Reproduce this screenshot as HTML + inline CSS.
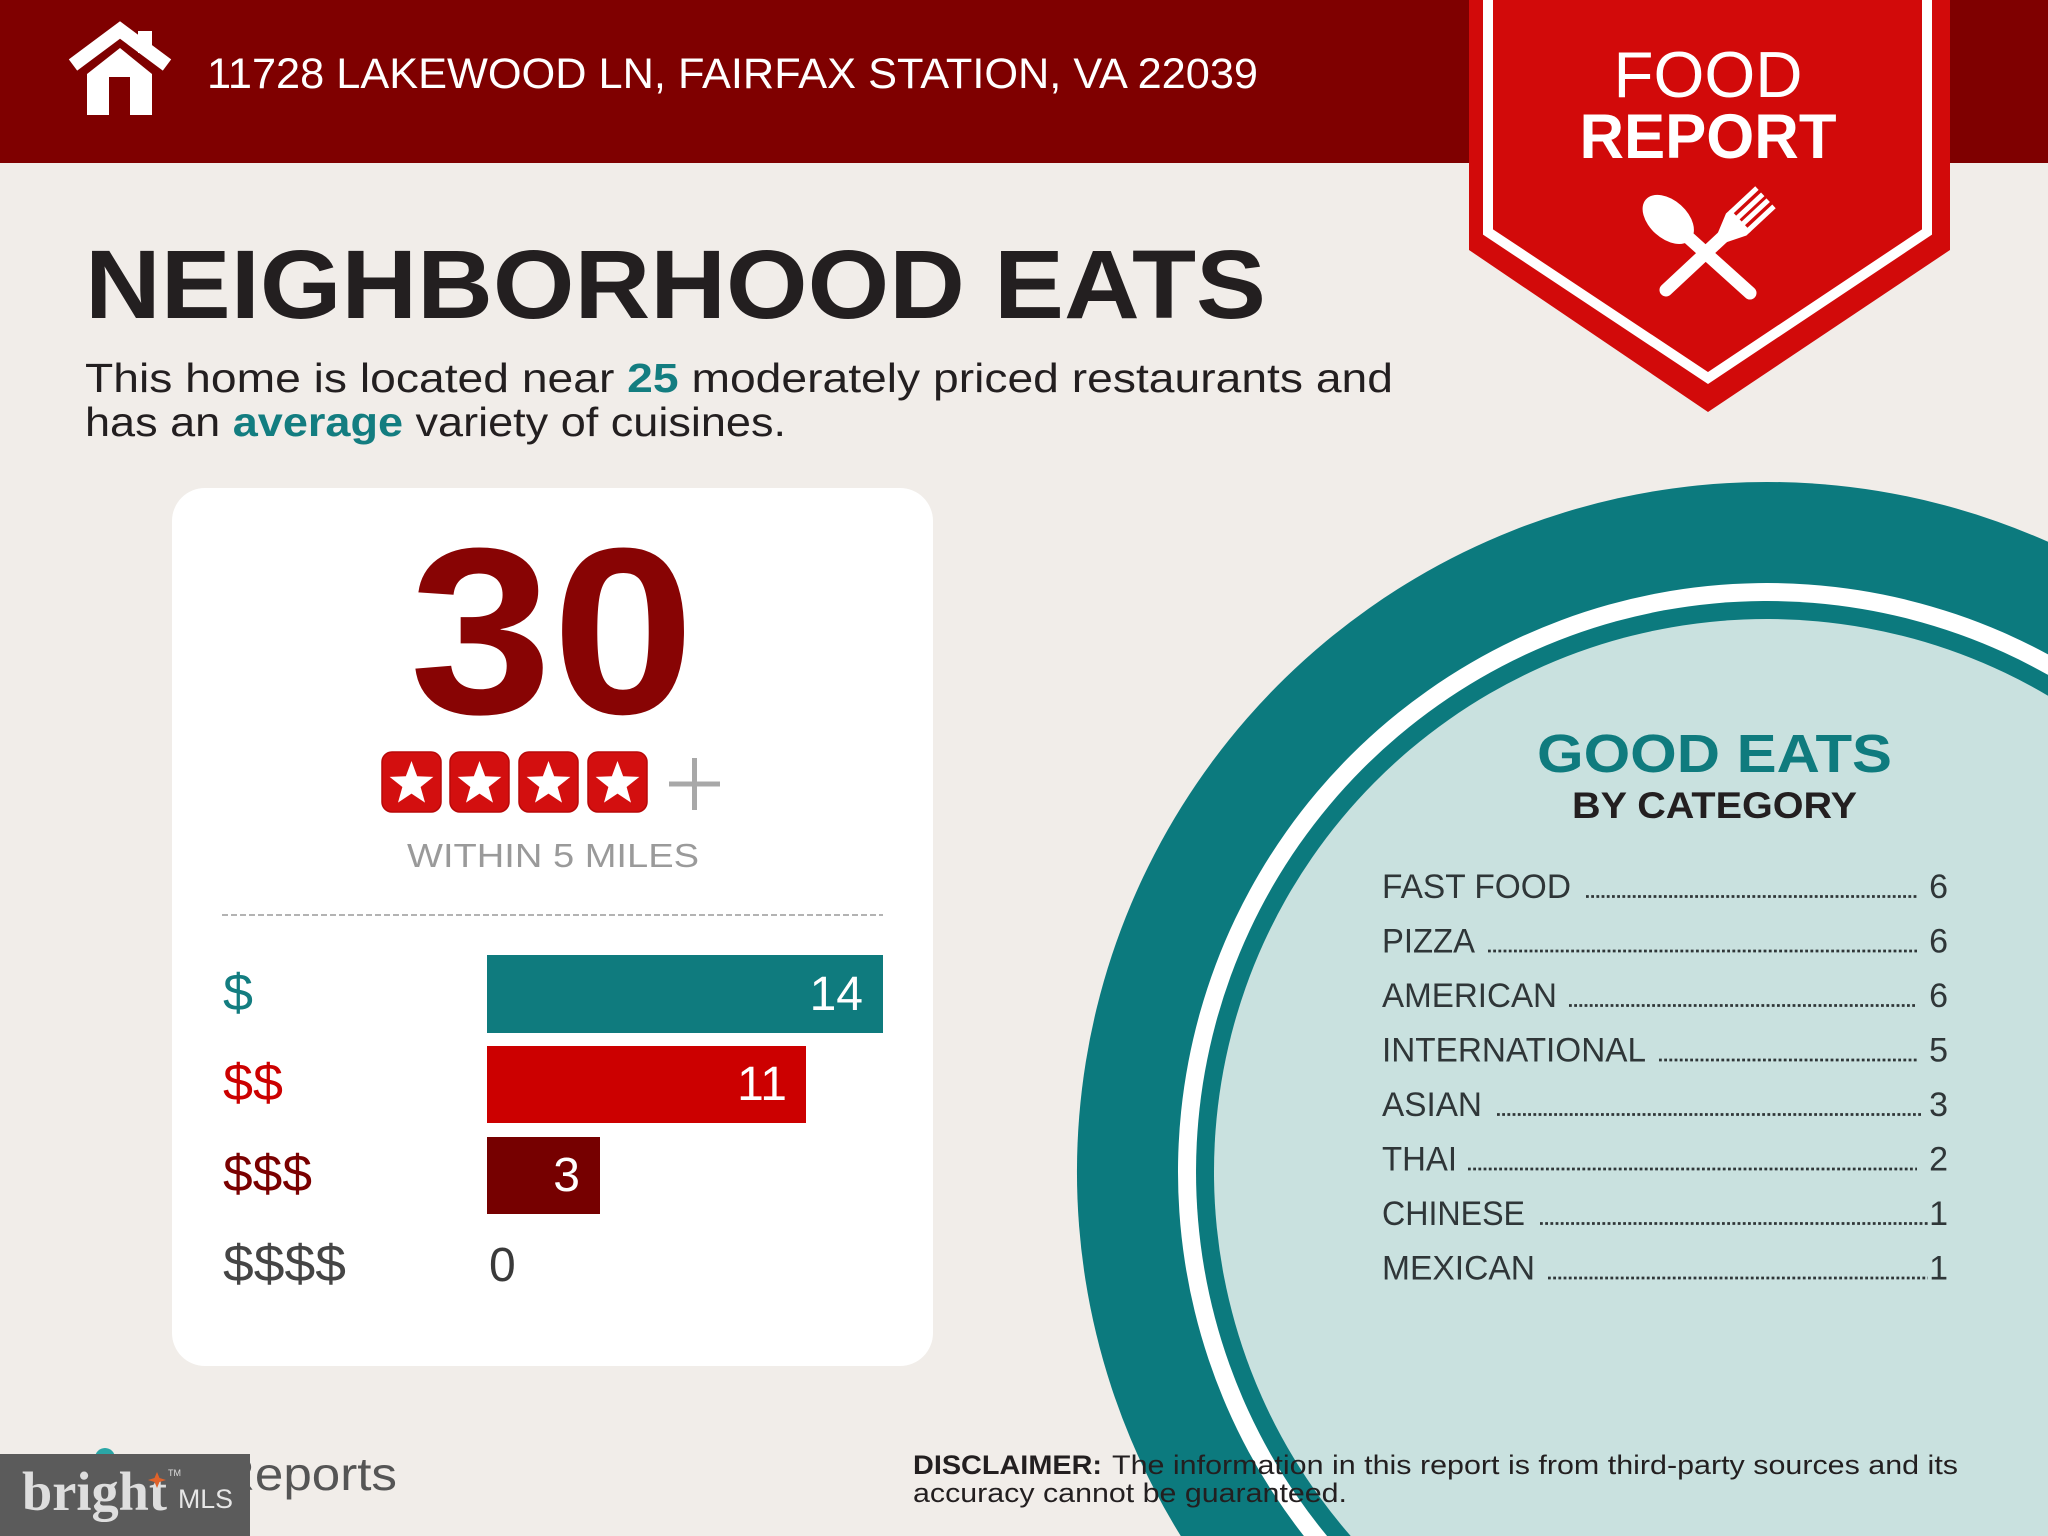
<!DOCTYPE html>
<html>
<head>
<meta charset="utf-8">
<style>
  html,body{margin:0;padding:0;background:#f1ede9;width:2048px;height:1536px;overflow:hidden;}
  svg{display:block;overflow:hidden;}
  text{font-family:"Liberation Sans", sans-serif;}
</style>
</head>
<body>
<svg width="2048" height="1536" viewBox="0 0 2048 1536" xmlns="http://www.w3.org/2000/svg">
  <!-- background -->
  <rect x="0" y="0" width="2048" height="1536" fill="#f1ede9"/>

  <!-- header banner -->
  <rect x="0" y="0" width="2048" height="163" fill="#7f0000"/>

  <!-- house icon -->
  <g fill="#ffffff">
    <polyline points="73,65 120,30 167,65" fill="none" stroke="#ffffff" stroke-width="14" stroke-linejoin="miter"/>
    <rect x="138" y="31" width="14" height="22"/>
    <polygon points="87,74 120,48 152,74 152,115 130,115 130,77 109,77 109,115 87,115"/>
  </g>
  <text x="207" y="88" font-size="43" fill="#ffffff" textLength="1051" lengthAdjust="spacingAndGlyphs">11728 LAKEWOOD LN, FAIRFAX STATION, VA 22039</text>

  <!-- ribbon -->
  <polygon points="1469,0 1950,0 1950,250 1708,412 1469,250" fill="#d20a0a"/>
  <polyline points="1488,0 1488,232 1708,378 1927,232 1927,0" fill="none" stroke="#ffffff" stroke-width="10" stroke-linejoin="miter"/>
  <text x="1708" y="97" font-size="65" fill="#ffffff" text-anchor="middle" textLength="189" lengthAdjust="spacingAndGlyphs">FOOD</text>
  <text x="1708" y="158" font-size="63" font-weight="bold" fill="#ffffff" text-anchor="middle" textLength="257" lengthAdjust="spacingAndGlyphs">REPORT</text>
  <!-- spoon -->
  <g transform="translate(1750,293) rotate(-48)" fill="#ffffff">
    <line x1="0" y1="0" x2="0" y2="-88" stroke="#ffffff" stroke-width="13" stroke-linecap="round"/>
    <ellipse cx="0" cy="-110" rx="19" ry="30"/>
  </g>
  <!-- fork -->
  <g transform="translate(1666,290) rotate(47)" fill="#ffffff">
    <line x1="0" y1="0" x2="0" y2="-80" stroke="#ffffff" stroke-width="13" stroke-linecap="round"/>
    <polygon points="-6,-76 6,-76 15,-96 15,-102 -15,-102 -15,-96"/>
    <rect x="-15" y="-136" width="5" height="36"/>
    <rect x="-6.5" y="-136" width="5" height="36"/>
    <rect x="1.5" y="-136" width="5" height="36"/>
    <rect x="10" y="-136" width="5" height="36"/>
  </g>

  <!-- title -->
  <text x="85" y="318" font-size="97" font-weight="bold" fill="#231f20" textLength="1181" lengthAdjust="spacingAndGlyphs">NEIGHBORHOOD EATS</text>
  <text x="85" y="392" font-size="41" fill="#231f20" textLength="1308" lengthAdjust="spacingAndGlyphs">This home is located near <tspan font-weight="bold" fill="#137d80">25</tspan> moderately priced restaurants and</text>
  <text x="85" y="436" font-size="41" fill="#231f20" textLength="701" lengthAdjust="spacingAndGlyphs">has an <tspan font-weight="bold" fill="#137d80">average</tspan> variety of cuisines.</text>

  <!-- card -->
  <rect x="172" y="488" width="761" height="878" rx="33" ry="33" fill="#ffffff"/>
  <text x="552" y="713" font-size="237" font-weight="bold" fill="#880404" text-anchor="middle" textLength="285" lengthAdjust="spacingAndGlyphs">30</text>

  <!-- stars -->
  <g>
    <rect x="382" y="752" width="59" height="60" rx="10" fill="#d30f0f" stroke="#b80808" stroke-width="1.5"/>
    <rect x="450" y="752" width="59" height="60" rx="10" fill="#d30f0f" stroke="#b80808" stroke-width="1.5"/>
    <rect x="519" y="752" width="59" height="60" rx="10" fill="#d30f0f" stroke="#b80808" stroke-width="1.5"/>
    <rect x="588" y="752" width="59" height="60" rx="10" fill="#d30f0f" stroke="#b80808" stroke-width="1.5"/>
    <g fill="#ffffff">
      <polygon transform="translate(411.5,784)" points="0,-23 5.64,-7.77 21.87,-7.11 9.13,2.97 13.52,18.61 0,9.6 -13.52,18.61 -9.13,2.97 -21.87,-7.11 -5.64,-7.77"/>
      <polygon transform="translate(479.5,784)" points="0,-23 5.64,-7.77 21.87,-7.11 9.13,2.97 13.52,18.61 0,9.6 -13.52,18.61 -9.13,2.97 -21.87,-7.11 -5.64,-7.77"/>
      <polygon transform="translate(548.5,784)" points="0,-23 5.64,-7.77 21.87,-7.11 9.13,2.97 13.52,18.61 0,9.6 -13.52,18.61 -9.13,2.97 -21.87,-7.11 -5.64,-7.77"/>
      <polygon transform="translate(617.5,784)" points="0,-23 5.64,-7.77 21.87,-7.11 9.13,2.97 13.52,18.61 0,9.6 -13.52,18.61 -9.13,2.97 -21.87,-7.11 -5.64,-7.77"/>
    </g>
    <line x1="669" y1="784" x2="720" y2="784" stroke="#a8a8a8" stroke-width="5"/>
    <line x1="694.5" y1="758" x2="694.5" y2="810" stroke="#a8a8a8" stroke-width="5"/>
  </g>
  <text x="553" y="867" font-size="33" fill="#9a9a9a" text-anchor="middle" textLength="292" lengthAdjust="spacingAndGlyphs">WITHIN 5 MILES</text>

  <line x1="222" y1="915" x2="883" y2="915" stroke="#b3b3b3" stroke-width="2" stroke-dasharray="6 3"/>

  <!-- bars -->
  <rect x="487" y="955" width="396" height="78" fill="#0f7b7e"/>
  <rect x="487" y="1046" width="319" height="77" fill="#cc0000"/>
  <rect x="487" y="1137" width="113" height="77" fill="#760000"/>

  <text x="223" y="1010" font-size="52" fill="#137d80" textLength="30" lengthAdjust="spacingAndGlyphs">$</text>
  <text x="223" y="1100" font-size="52" fill="#cc0000" textLength="60" lengthAdjust="spacingAndGlyphs">$$</text>
  <text x="223" y="1191" font-size="52" fill="#7a0000" textLength="89" lengthAdjust="spacingAndGlyphs">$$$</text>
  <text x="223" y="1281" font-size="52" fill="#454545" textLength="123" lengthAdjust="spacingAndGlyphs">$$$$</text>

  <text x="863" y="1010" font-size="48" fill="#ffffff" text-anchor="end">14</text>
  <text x="787" y="1100" font-size="48" fill="#ffffff" text-anchor="end">11</text>
  <text x="580" y="1191" font-size="48" fill="#ffffff" text-anchor="end">3</text>
  <text x="489" y="1281" font-size="48" fill="#3a3a3a">0</text>

  <!-- circle plate (arcs clipped to frame) -->
  <path d="M1180.8,1536 A690,690 0 0 1 2048,541.8 L2048,1536 Z" fill="#0c7a7e"/>
  <path d="M1303.9,1536 A589,589 0 0 1 2048,654.4 L2048,1536 Z" fill="#ffffff"/>
  <path d="M1327.1,1536 A571,571 0 0 1 2048,674.9 L2048,1536 Z" fill="#0c7a7e"/>
  <path d="M1350.7,1536 A553,553 0 0 1 2048,695.7 L2048,1536 Z" fill="#c9e1df"/>

  <text x="1537" y="772" font-size="54" font-weight="bold" fill="#0f7b7e" textLength="355" lengthAdjust="spacingAndGlyphs">GOOD EATS</text>
  <text x="1572" y="818" font-size="37" font-weight="bold" fill="#231f20" textLength="285" lengthAdjust="spacingAndGlyphs">BY CATEGORY</text>

  <g font-size="34" fill="#2f3638">
    <text x="1382" y="898" textLength="189" lengthAdjust="spacingAndGlyphs">FAST FOOD</text>
    <text x="1382" y="952.5" textLength="93" lengthAdjust="spacingAndGlyphs">PIZZA</text>
    <text x="1382" y="1007" textLength="175" lengthAdjust="spacingAndGlyphs">AMERICAN</text>
    <text x="1382" y="1061.5" textLength="264" lengthAdjust="spacingAndGlyphs">INTERNATIONAL</text>
    <text x="1382" y="1116" textLength="100" lengthAdjust="spacingAndGlyphs">ASIAN</text>
    <text x="1382" y="1170.5" textLength="75" lengthAdjust="spacingAndGlyphs">THAI</text>
    <text x="1382" y="1225" textLength="143" lengthAdjust="spacingAndGlyphs">CHINESE</text>
    <text x="1382" y="1279.5" textLength="153" lengthAdjust="spacingAndGlyphs">MEXICAN</text>
  </g>
  <g font-size="34" fill="#2f3638" text-anchor="end">
    <text x="1948" y="898">6</text>
    <text x="1948" y="952.5">6</text>
    <text x="1948" y="1007">6</text>
    <text x="1948" y="1061.5">5</text>
    <text x="1948" y="1116">3</text>
    <text x="1948" y="1170.5">2</text>
    <text x="1948" y="1225">1</text>
    <text x="1948" y="1279.5">1</text>
  </g>
  <g stroke="#2f3638" stroke-width="2.8" stroke-dasharray="2.8 2.4">
    <line x1="1586" y1="896.5" x2="1917" y2="896.5"/>
    <line x1="1488" y1="951" x2="1917" y2="951"/>
    <line x1="1569" y1="1005.5" x2="1917" y2="1005.5"/>
    <line x1="1659" y1="1060" x2="1917" y2="1060"/>
    <line x1="1497" y1="1114.5" x2="1922" y2="1114.5"/>
    <line x1="1468" y1="1169" x2="1917" y2="1169"/>
    <line x1="1540" y1="1223.5" x2="1928" y2="1223.5"/>
    <line x1="1548" y1="1278" x2="1928" y2="1278"/>
  </g>

  <!-- disclaimer -->
  <text x="913" y="1474" font-size="27" font-weight="bold" fill="#231f20" textLength="189" lengthAdjust="spacingAndGlyphs">DISCLAIMER:</text>
  <text x="1112" y="1474" font-size="27" fill="#231f20" textLength="846" lengthAdjust="spacingAndGlyphs">The information in this report is from third-party sources and its</text>
  <text x="913" y="1502" font-size="27" fill="#231f20" textLength="434" lengthAdjust="spacingAndGlyphs">accuracy cannot be guaranteed.</text>

  <!-- footer logo -->
  <circle cx="105" cy="1458" r="10" fill="#2aa6a6"/>
  <text x="218" y="1490" font-size="46" fill="#555555" textLength="179" lengthAdjust="spacingAndGlyphs">Reports</text>
  <rect x="0" y="1454" width="250" height="82" fill="#5b5b5b"/>
  <text x="22" y="1510" font-size="55" font-weight="bold" fill="#dedede" style="font-family:'Liberation Serif',serif" textLength="145" lengthAdjust="spacingAndGlyphs">bright</text>
  <polygon points="157,1472 159.5,1478 166,1480 159.5,1482 157,1488 154.5,1482 148,1480 154.5,1478" fill="#e0622a"/>
  <text x="168" y="1476" font-size="9" fill="#dedede">TM</text>
  <text x="178" y="1508" font-size="27" fill="#e6e6e6" textLength="55" lengthAdjust="spacingAndGlyphs">MLS</text>
</svg>
</body>
</html>
